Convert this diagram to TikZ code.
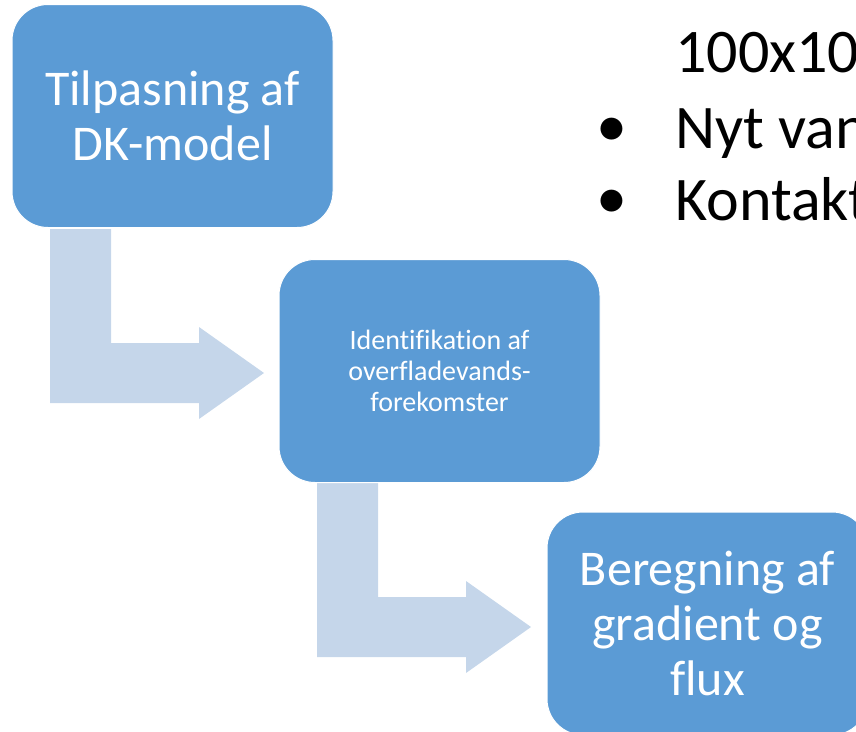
\documentclass[tikz,border=0pt]{standalone}
\usepackage{fontspec}
\setmainfont[Ligatures=NoCommon]{Carlito}
\definecolor{boxblue}{RGB}{91,155,213}
\definecolor{arrowblue}{RGB}{197,214,234}
\begin{document}
\begin{tikzpicture}[x=1pt,y=-1pt,
  stepbox/.style={draw=white, line width=1pt, fill=boxblue, rounded corners=36pt,
    minimum width=321pt, minimum height=223pt, inner sep=0pt, text=white, align=center},
  bigtext/.style={font=\fontsize{50}{55}\selectfont},
  smalltext/.style={font=\fontsize{28}{31}\selectfont},
  bendarrow/.style={fill=arrowblue, draw=none},
  listtext/.style={anchor=base west, inner sep=0pt, font=\fontsize{62}{74}\selectfont}]
  \useasboundingbox (0,0) rectangle (856,731);

  % bent arrows between the steps (drawn first, behind the boxes)
  \path[bendarrow] (50,229) -- (111,229) -- (111,343) -- (199,343) -- (199,327)
    -- (264,373) -- (199,419) -- (199,403) -- (50,403) -- cycle;
  \path[bendarrow] (317,482) -- (378,482) -- (378,597) -- (466,597) -- (466,581)
    -- (531,627) -- (466,673) -- (466,657) -- (317,657) -- cycle;

  % process steps
  \node[stepbox, bigtext] (b1) at (172.5,116) {Tilpasning af\\DK-model};
  \node[stepbox, smalltext] (b2) at (439.5,371) {Identifikation af\\overfladevands-\\forekomster};
  \node[stepbox, bigtext] (b3) at (707.5,623.5) {Beregning af\\gradient og\\flux};

  % text list at the top right
  \node[listtext] (l1) at (675,72) {100x100};
  \node[listtext] (d2) at (596,146) {•};
  \node[listtext] (l2) at (675,148) {Nyt vand};
  \node[listtext] (d3) at (596,218) {•};
  \node[listtext] (l3) at (675,220) {Kontakt};
\end{tikzpicture}
\end{document}
